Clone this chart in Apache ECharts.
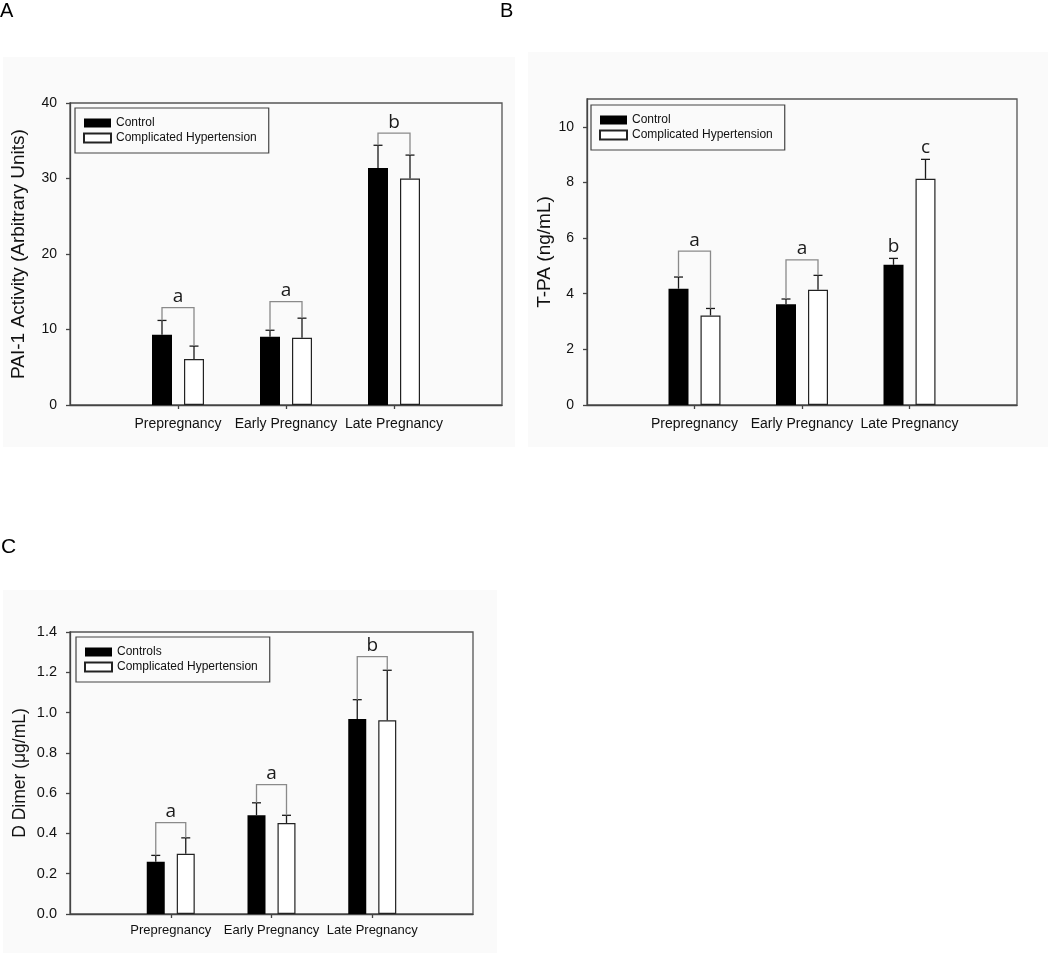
<!DOCTYPE html>
<html><head><meta charset="utf-8">
<script src="https://cdn.jsdelivr.net/npm/echarts@6/dist/echarts.min.js"></script>
<style>html,body{margin:0;padding:0;background:#fff}#c{width:1050px;height:953px}</style>
</head><body><div id="c"></div>
<script>
// ---------- data ----------
const categories = ['Prepregnancy', 'Early Pregnancy', 'Late Pregnancy'];

// Panel A: PAI-1 activity
const paiTicks = [0, 10, 20, 30, 40];
const paiControl = [9.3, 9.05, 31.4];
const paiControlErr = [11.2, 9.9, 34.4];
const paiHyp = [6.1, 8.9, 30.0];
const paiHypErr = [7.8, 11.5, 33.1];
const paiBracket = [12.9, 13.7, 36.0];
const paiBracketLetters = ['a', 'a', 'b'];

// Panel B: T-PA
const tpaTicks = [0, 2, 4, 6, 8, 10];
const tpaControl = [4.18, 3.62, 5.04];
const tpaControlErr = [4.60, 3.81, 5.27];
const tpaHyp = [3.22, 4.14, 8.13];
const tpaHypErr = [3.47, 4.66, 8.83];
const tpaBracket = [5.53, 5.22, null];
const tpaBracketLetters = ['a', 'a', ''];
const tpaControlLetters = ['', '', 'b'];
const tpaHypLetters = ['', '', 'c'];

// Panel C: D Dimer
const ddTicks = [0, 0.2, 0.4, 0.6, 0.8, 1.0, 1.2, 1.4];
const ddControl = [0.26, 0.49, 0.968];
const ddControlErr = [0.291, 0.552, 1.064];
const ddHyp = [0.299, 0.452, 0.962];
const ddHypErr = [0.378, 0.49, 1.21];
const ddBracket = [0.454, 0.642, 1.278];
const ddBracketLetters = ['a', 'a', 'b'];

// ---------- helpers ----------
const xSlots = ['', ...categories, ''];
const FONT = 'Liberation Sans, Arial, sans-serif';
const LFONT = 'Open Sans, sans-serif';
const slotOf = i => i + 1;

function barData(vals) { return ['-', ...vals, '-']; }

function errSeries(gi, vals, errs, side, off) {
  return {
    type: 'custom', xAxisIndex: gi, yAxisIndex: gi, z: 4, silent: true,
    data: vals.map((v, i) => [slotOf(i), v, errs[i], side]),
    encode: { x: 0, y: 1 },
    renderItem: function (params, api) {
      const b = api.coord([api.value(0), api.value(1)]);
      const t = api.coord([api.value(0), api.value(2)]);
      const cx = b[0] + api.value(3) * off;
      const st = { stroke: '#1a1a1a', lineWidth: 1.3 };
      return { type: 'group', children: [
        { type: 'line', shape: { x1: cx, y1: b[1], x2: cx, y2: t[1] }, style: st },
        { type: 'line', shape: { x1: cx - 4.5, y1: t[1], x2: cx + 4.5, y2: t[1] }, style: st }
      ] };
    }
  };
}

function bracketSeries(gi, tops, leftEnds, rightEnds, letters, off) {
  const items = [];
  tops.forEach((t, i) => { if (t != null) items.push([slotOf(i), t, leftEnds[i], rightEnds[i], i]); });
  return {
    type: 'custom', xAxisIndex: gi, yAxisIndex: gi, z: 5, silent: true,
    data: items, encode: { x: 0, y: 1 },
    renderItem: function (params, api) {
      const top = api.coord([api.value(0), api.value(1)]);
      const le = api.coord([api.value(0), api.value(2)]);
      const re = api.coord([api.value(0), api.value(3)]);
      const xl = top[0] - off, xr = top[0] + off;
      const st = { stroke: '#8a8a8a', lineWidth: 1.3, fill: null };
      return { type: 'group', children: [
        { type: 'polyline', shape: { points: [[xl, le[1]], [xl, top[1]], [xr, top[1]], [xr, re[1]]] }, style: st },
        { type: 'text', style: { x: top[0], y: top[1] - 11, text: letters[api.value(4)], fill: '#1a1a1a',
          font: '19px ' + LFONT, align: 'center', verticalAlign: 'middle' } }
      ] };
    }
  };
}

function letterSeries(gi, errs, letters, side, off) {
  const items = [];
  letters.forEach((l, i) => { if (l) items.push([slotOf(i), errs[i], i]); });
  return {
    type: 'custom', xAxisIndex: gi, yAxisIndex: gi, z: 5, silent: true,
    data: items, encode: { x: 0, y: 1 },
    renderItem: function (params, api) {
      const p = api.coord([api.value(0), api.value(1)]);
      return { type: 'text', style: { x: p[0] + side * off, y: p[1] - 12, text: letters[api.value(2)],
        fill: '#1a1a1a', font: '19px ' + LFONT, align: 'center', verticalAlign: 'middle' } };
    }
  };
}

function xAxis(gi, fs, margin) {
  const show = idx => idx >= 1 && idx <= 3;
  return {
    type: 'category', gridIndex: gi, data: xSlots, boundaryGap: false,
    axisLine: { lineStyle: { color: '#444', width: 1.3 } },
    axisTick: { show: true, interval: show, length: 4, lineStyle: { color: '#444', width: 1.3 } },
    axisLabel: { interval: show, fontSize: fs, margin: margin, color: '#111', fontFamily: FONT },
    splitLine: { show: false }
  };
}

function yAxis(gi, ticks, max, interval, name, nameSize, nameGap, fs, fmt) {
  return {
    type: 'value', gridIndex: gi, min: 0, max: max, interval: interval,
    axisLine: { show: true, lineStyle: { color: '#444', width: 1.3 } },
    axisTick: { show: true, length: 4, customValues: ticks, lineStyle: { color: '#444', width: 1.3 } },
    axisLabel: { fontSize: fs, margin: 13, color: '#111', fontFamily: FONT, customValues: ticks,
      formatter: fmt || (v => String(v)) },
    splitLine: { show: false },
    name: name, nameLocation: 'middle', nameGap: nameGap,
    nameTextStyle: { fontSize: nameSize, color: '#111', fontFamily: FONT }
  };
}

function legend(left, top, names) {
  return {
    left: left, top: top, orient: 'vertical', data: names, icon: 'rect',
    itemWidth: 27, itemHeight: 9, itemGap: 3, padding: [9, 12, 9, 8],
    borderColor: '#444', borderWidth: 1.2, selectedMode: false,
    textStyle: { fontSize: 12, fontFamily: FONT, color: '#111' }
  };
}

const blackStyle = { color: '#000' };
const whiteStyle = { color: '#fff', borderColor: '#222', borderWidth: 1.2 };

function bars(gi, ctlName, ctl, hyp, bw, gap) {
  return [
    { type: 'bar', name: ctlName, xAxisIndex: gi, yAxisIndex: gi, data: barData(ctl),
      barWidth: bw, barGap: (gap / bw * 100) + '%', itemStyle: blackStyle, silent: true },
    { type: 'bar', name: 'Complicated Hypertension', xAxisIndex: gi, yAxisIndex: gi, data: barData(hyp),
      barWidth: bw, barGap: (gap / bw * 100) + '%', itemStyle: whiteStyle, silent: true }
  ];
}

const offAB = (20 + 12) / 2;
const offC = (18 + 12) / 2;

const option = {
  animation: false,
  backgroundColor: '#fff',
  graphic: [
    { type: 'rect', z: -10, shape: { x: 3, y: 57, width: 512, height: 390 }, style: { fill: '#fafafa' } },
    { type: 'rect', z: -10, shape: { x: 528, y: 52, width: 520, height: 395 }, style: { fill: '#fafafa' } },
    { type: 'rect', z: -10, shape: { x: 3, y: 590, width: 494, height: 363 }, style: { fill: '#fafafa' } },
    { type: 'text', left: 0, top: 1, style: { text: 'A', font: '20px ' + FONT, fill: '#000' } },
    { type: 'text', left: 500, top: 1, style: { text: 'B', font: '20px ' + FONT, fill: '#000' } },
    { type: 'text', left: 1, top: 537, style: { text: 'C', font: '21px ' + FONT, fill: '#000' } }
  ],
  grid: [
    { left: 70, top: 103, width: 432, height: 302, show: true, borderColor: '#555', borderWidth: 1.3, backgroundColor: 'transparent' },
    { left: 587, top: 99, width: 430, height: 306, show: true, borderColor: '#555', borderWidth: 1.3, backgroundColor: 'transparent' },
    { left: 70, top: 632, width: 403, height: 282, show: true, borderColor: '#555', borderWidth: 1.3, backgroundColor: 'transparent' }
  ],
  xAxis: [xAxis(0, 14, 12), xAxis(1, 14, 12), xAxis(2, 13, 10)],
  yAxis: [
    yAxis(0, paiTicks, 40, 10, 'PAI-1 Activity (Arbitrary Units)', 19, 42, 14),
    yAxis(1, tpaTicks, 11, 2, 'T-PA (ng/mL)', 19, 32, 14),
    yAxis(2, ddTicks, 1.4, 0.2, 'D Dimer (\u03bcg/mL)', 17.5, 41, 14.5, v => v.toFixed(1))
  ],
  legend: [
    legend(75, 108, ['Control', 'Complicated Hypertension']),
    legend(591, 105, ['Control', 'Complicated Hypertension']),
    legend(76, 637, ['Controls', 'Complicated Hypertension'])
  ],
  series: [
    ...bars(0, 'Control', paiControl, paiHyp, 20, 12),
    errSeries(0, paiControl, paiControlErr, -1, offAB),
    errSeries(0, paiHyp, paiHypErr, 1, offAB),
    bracketSeries(0, paiBracket, paiControlErr, paiHypErr, paiBracketLetters, offAB),

    ...bars(1, 'Control', tpaControl, tpaHyp, 20, 12),
    errSeries(1, tpaControl, tpaControlErr, -1, offAB),
    errSeries(1, tpaHyp, tpaHypErr, 1, offAB),
    bracketSeries(1, tpaBracket, tpaControlErr, tpaHypErr, tpaBracketLetters, offAB),
    letterSeries(1, tpaControlErr, tpaControlLetters, -1, offAB),
    letterSeries(1, tpaHypErr, tpaHypLetters, 1, offAB),

    ...bars(2, 'Controls', ddControl, ddHyp, 18, 12),
    errSeries(2, ddControl, ddControlErr, -1, offC),
    errSeries(2, ddHyp, ddHypErr, 1, offC),
    bracketSeries(2, ddBracket, ddControlErr, ddHypErr, ddBracketLetters, offC)
  ]
};

const chart = echarts.init(document.getElementById('c'), null, { renderer: 'canvas' });
chart.setOption(option);
</script>
</body></html>
